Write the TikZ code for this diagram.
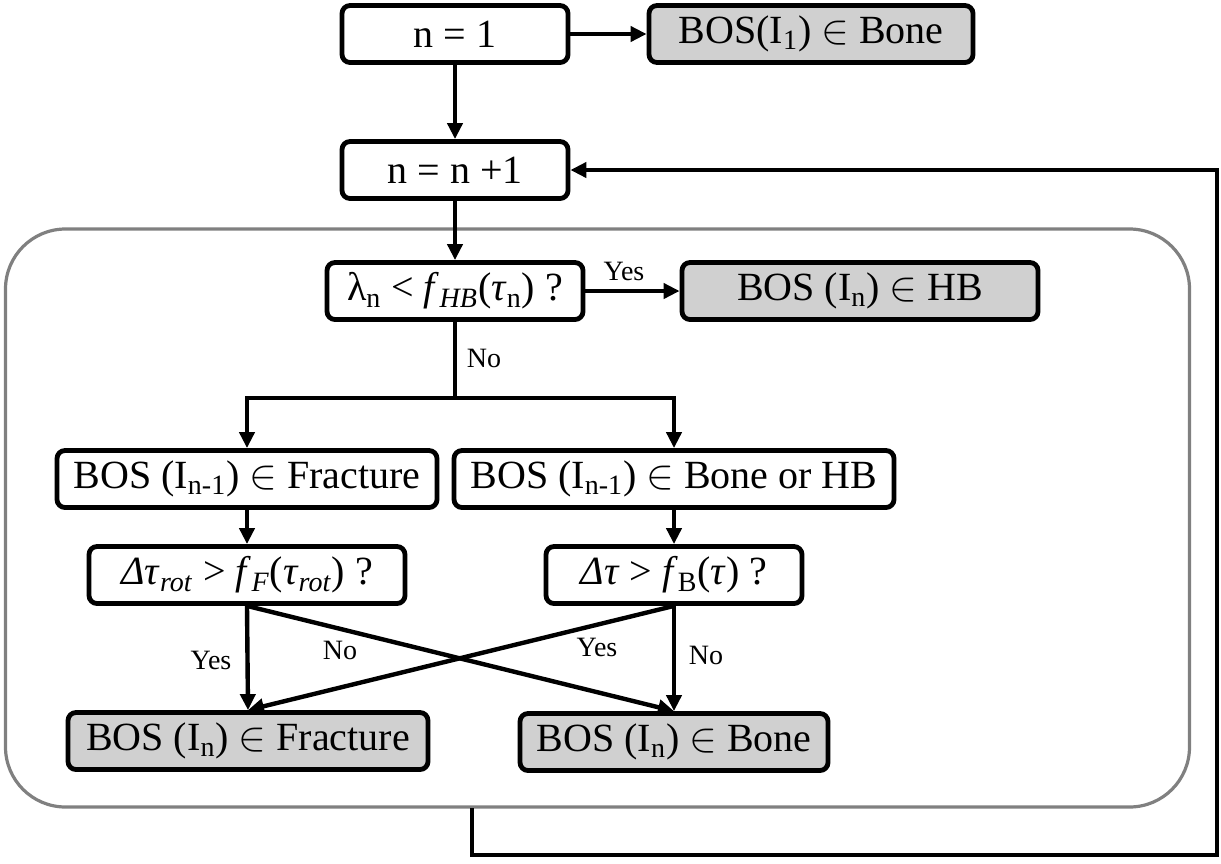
\documentclass[tikz,border=0pt]{standalone}
\usepackage{fontspec}
\setmainfont{Liberation Serif}
\usetikzlibrary{arrows.meta}
\definecolor{boxgray}{RGB}{208,208,208}
\definecolor{framegray}{RGB}{128,128,128}
\newcommand{\lowidx}[1]{\textsubscript{#1}}

\begin{document}
\begin{tikzpicture}
  [x=0.5pt,y=-0.5pt,
   every node/.style={font=\fontsize{20}{24}\selectfont},
   box/.style={draw,line width=2.4pt,rounded corners=4pt,inner sep=2pt,minimum height=28.5pt},
   result/.style={box,fill=boxgray},
   lbl/.style={font=\fontsize{14}{16}\selectfont,inner sep=0pt},
   arrow/.style={line width=2.2pt,-{Triangle[length=8pt,width=7.5pt]}},
   line/.style={line width=2.2pt}]
  \useasboundingbox (0,0) rectangle (1221,863);

  \node[draw=framegray,line width=1.6pt,rounded corners=30pt,
        minimum width=592pt,minimum height=289pt] (block) at (597.5,518) {};

  \node[box,minimum width=113pt] (n1) at (455,34) {n = 1};
  \node[result,minimum width=162pt] (bos1) at (811,34) {BOS(I\lowidx{1}) $\in$ Bone};
  \node[box,minimum width=113pt] (nplus) at (455,170) {n = n +1};
  \node[box,minimum width=128pt] (lam) at (455,291)
    {λ\lowidx{n} < \textit{f}\lowidx{\textit{HB}}(\textit{τ}\lowidx{n}) ?};
  \node[result,minimum width=178pt] (hb) at (860,291) {BOS (I\lowidx{n}) $\in$ HB};
  \node[box,minimum width=190pt] (prevf) at (247,479) {BOS (I\lowidx{n-1}) $\in$ Fracture};
  \node[box,minimum width=220pt] (prevb) at (674,479) {BOS (I\lowidx{n-1}) $\in$ Bone or HB};
  \node[box,minimum width=158pt] (qf) at (247,575)
    {\textit{Δτ}\lowidx{\textit{rot}} > \textit{f}\lowidx{\textit{F}}(\textit{τ}\lowidx{\textit{rot}}) ?};
  \node[box,minimum width=128pt] (qb) at (674,575)
    {\textit{Δτ} > \textit{f}\lowidx{B}(\textit{τ}) ?};
  \node[result,minimum width=180pt] (frac) at (248,741) {BOS (I\lowidx{n}) $\in$ Fracture};
  \node[result,minimum width=154pt] (bone) at (674,742) {BOS (I\lowidx{n}) $\in$ Bone};

  \coordinate (split) at (455,398);
  \coordinate (out) at (472,808);
  \coordinate (corner) at (1217,855);

  \node[lbl] (yes1) at (624,271) {Yes};
  \node[lbl] (no1) at (484,358) {No};
  \node[lbl] (yes2) at (211,660) {Yes};
  \node[lbl] (no2) at (340,650) {No};
  \node[lbl] (yes3) at (597,647) {Yes};
  \node[lbl] (no3) at (706,655) {No};

  \draw[arrow] (n1) -- (bos1);
  \draw[arrow] (n1) -- (nplus);
  \draw[arrow] (nplus) -- (lam);
  \draw[arrow] (lam) -- (hb);
  \draw[line] (lam) -- (split);
  \draw[arrow] (split) -| (prevf);
  \draw[arrow] (split) -| (prevb);
  \draw[arrow] (prevf) -- (qf);
  \draw[arrow] (prevb) -- (qb);
  \draw[arrow] (qf.south) -- (frac.north);
  \draw[arrow] (qf.south) -- (bone.north);
  \draw[arrow] (qb.south) -- (bone.north);
  \draw[arrow] (qb.south) -- (frac.north);
  \draw[arrow] (out) |- (corner) |- (nplus);
\end{tikzpicture}
\end{document}
